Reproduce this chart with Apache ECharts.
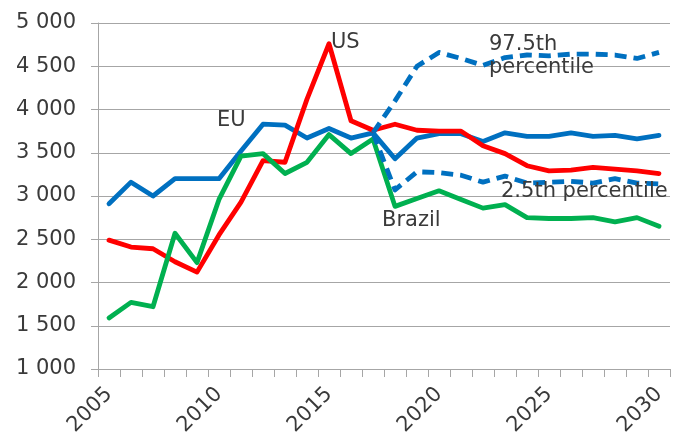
<!DOCTYPE html>
<html>
<head>
<meta charset="utf-8">
<script src="https://cdn.jsdelivr.net/npm/echarts@6/dist/echarts.min.js"></script>
<style>
  html, body { margin: 0; padding: 0; background: #ffffff; }
  #chart { width: 673px; height: 434px; }
</style>
</head>
<body>
<div id="chart"></div>
<script>
// Years on the category axis
const years = [2005, 2006, 2007, 2008, 2009, 2010, 2011, 2012, 2013, 2014, 2015, 2016, 2017,
               2018, 2019, 2020, 2021, 2022, 2023, 2024, 2025, 2026, 2027, 2028, 2029, 2030];

// Historical values and projections
const euValues = [2910, 3160, 3000, 3200, 3200, 3200, 3520, 3830, 3820, 3670, 3780, 3670, 3730,
                  3430, 3670, 3720, 3720, 3630, 3730, 3690, 3690, 3730, 3690, 3700, 3660, 3700];
const usValues = [2490, 2410, 2390, 2240, 2120, 2550, 2930, 3410, 3390, 4120, 4760, 3870, 3760,
                  3830, 3760, 3750, 3750, 3580, 3490, 3350, 3290, 3300, 3330, 3310, 3290, 3260];
const brazilValues = [1590, 1770, 1720, 2570, 2230, 2960, 3460, 3490, 3260, 3390, 3710, 3490, 3660,
                      2880, 2970, 3060, 2960, 2860, 2900, 2750, 2740, 2740, 2750, 2700, 2750, 2650];

// EU uncertainty band, from 2017 onwards
const p975Values = [null, null, null, null, null, null, null, null, null, null, null, null, 3730,
                    4100, 4500, 4660, 4590, 4510, 4600, 4630, 4620, 4640, 4640, 4630, 4590, 4660];
const p25Values = [null, null, null, null, null, null, null, null, null, null, null, null, 3730,
                   3070, 3280, 3270, 3240, 3160, 3230, 3150, 3160, 3170, 3150, 3200, 3150, 3140];

// Axis range and tick step
const yMin = 1000, yMax = 5000, yStep = 500;

const FONT = '"DejaVu Sans", Verdana, sans-serif';
const TEXT = '#3a3a3a';
const GRID = '#a6a6a6';
const BLUE = '#0070C0', RED = '#FF0000', GREEN = '#00B050';

function spaced(v) {
  return String(v).replace(/\B(?=(\d{3})+(?!\d))/g, ' ');
}

function lineSeries(name, data, color, dashed) {
  return {
    name: name,
    type: 'line',
    data: data,
    showSymbol: false,
    symbol: 'none',
    connectNulls: false,
    animation: false,
    lineStyle: {
      color: color,
      width: 4.8,
      type: dashed ? [12, 7] : 'solid',
      cap: dashed ? 'butt' : 'round',
      join: 'round'
    },
    emphasis: { disabled: true }
  };
}

const chart = echarts.init(document.getElementById('chart'), null, { renderer: 'canvas' });

function label(text, x, y) {
  return {
    type: 'text',
    x: x,
    y: y,
    z: 100,
    style: {
      text: text,
      fill: TEXT,
      font: '21px ' + FONT,
      align: 'left',
      verticalAlign: 'middle'
    }
  };
}

chart.setOption({
  animation: false,
  backgroundColor: '#ffffff',
  grid: { left: 98, right: 3, top: 23, bottom: 65, containLabel: false, outerBoundsMode: 'none' },
  xAxis: {
    type: 'category',
    data: years,
    boundaryGap: true,
    axisLine: { show: true, lineStyle: { color: GRID, width: 1 } },
    axisTick: { show: true, interval: 0, length: 8, lineStyle: { color: GRID } },
    axisLabel: {
      interval: 4,
      rotate: 45,
      margin: 22,
      color: TEXT,
      fontFamily: FONT,
      fontSize: 21
    },
    splitLine: { show: false }
  },
  yAxis: {
    type: 'value',
    min: yMin,
    max: yMax,
    interval: yStep,
    axisLine: { show: true, lineStyle: { color: GRID, width: 1 } },
    axisTick: { show: true, length: 7, lineStyle: { color: GRID } },
    axisLabel: {
      margin: 22,
      color: TEXT,
      fontFamily: FONT,
      fontSize: 21,
      formatter: spaced
    },
    splitLine: { show: true, lineStyle: { color: GRID, width: 1 } }
  },
  series: [
    lineSeries('EU', euValues, BLUE, false),
    lineSeries('US', usValues, RED, false),
    lineSeries('Brazil', brazilValues, GREEN, false),
    lineSeries('97.5th percentile', p975Values, BLUE, true),
    lineSeries('2.5th percentile', p25Values, BLUE, true)
  ],
  graphic: [
    label('US', 331, 43),
    label('EU', 217, 121),
    label('97.5th', 489, 45),
    label('percentile', 489, 68),
    label('2.5th percentile', 501, 192),
    label('Brazil', 382, 221)
  ]
});
</script>
</body>
</html>
